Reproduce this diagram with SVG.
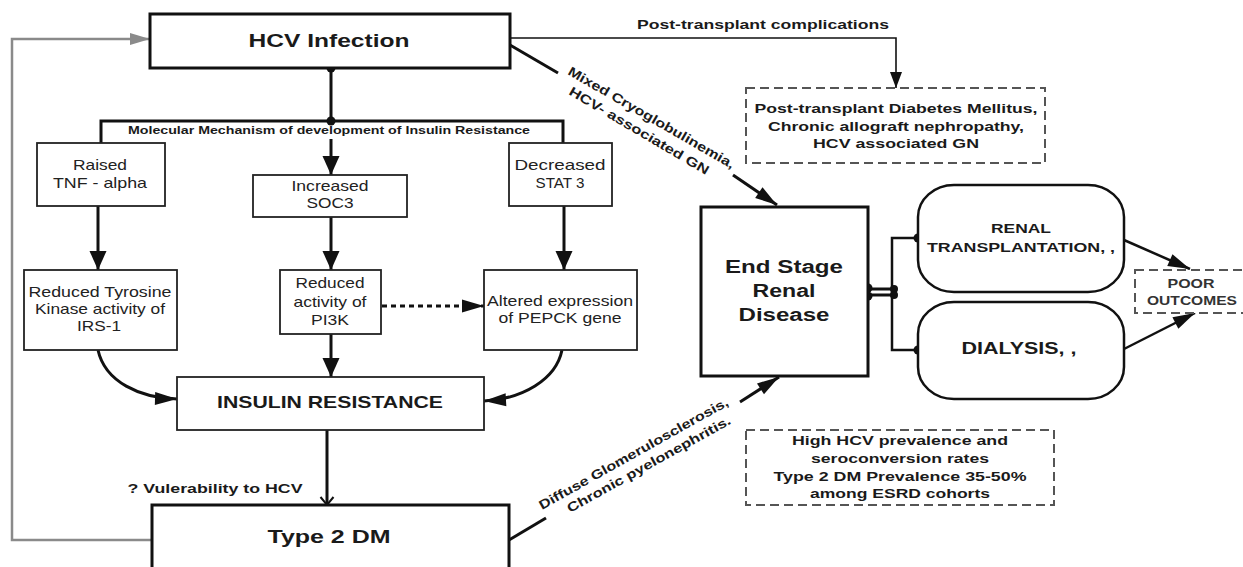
<svg xmlns="http://www.w3.org/2000/svg" width="1243" height="567" viewBox="0 0 1243 567">
<defs>
<style>
text { font-family: "Liberation Sans", Arial, Helvetica, sans-serif; fill: #1a1a1a; text-anchor: middle; }
.b { font-weight: bold; }
.s { text-anchor: start; }
.r { font-size: 15px; fill: #222; }
.box { fill: #fff; stroke: #222; stroke-width: 1.8; }
.hbox { fill: #fff; stroke: #111; stroke-width: 3; }
.rbox { fill: #fff; stroke: #111; stroke-width: 2.5; }
.dash { fill: #fff; stroke: #555; stroke-width: 2; stroke-dasharray: 9 5; }
.ln { fill: none; stroke: #111; stroke-width: 3; }
.ln2 { fill: none; stroke: #111; stroke-width: 2.5; }
.thin { fill: none; stroke: #111; stroke-width: 1.6; }
.gray { fill: none; stroke: #8a8a8a; stroke-width: 2.5; }
.dot { fill: #111; }
</style>
<marker id="aV" markerUnits="userSpaceOnUse" markerWidth="20" markerHeight="18" refX="19" refY="8.5" orient="auto" overflow="visible"><path d="M0,0 L19,8.5 L0,17 z" fill="#111"/></marker>
<marker id="aH" markerUnits="userSpaceOnUse" markerWidth="23" markerHeight="14" refX="22" refY="6.5" orient="auto" overflow="visible"><path d="M0,0 L22,6.5 L0,13 z" fill="#111"/></marker>
<marker id="aS" markerUnits="userSpaceOnUse" markerWidth="17" markerHeight="13" refX="16" refY="6" orient="auto" overflow="visible"><path d="M0,0 L16,6 L0,12 z" fill="#111"/></marker>
<marker id="aG" markerUnits="userSpaceOnUse" markerWidth="21" markerHeight="13" refX="20" refY="6" orient="auto" overflow="visible"><path d="M0,0 L20,6 L0,12 z" fill="#8a8a8a"/></marker>
<marker id="aO" markerUnits="userSpaceOnUse" markerWidth="10" markerHeight="14" refX="8" refY="6.5" orient="auto" overflow="visible"><path d="M0,0 L8,6.5 L0,13" fill="none" stroke="#111" stroke-width="2"/></marker>
</defs>

<rect width="1243" height="567" fill="#fff"/>

<g id="connectors">
  <!-- gray feedback loop -->
  <polyline class="gray" points="152,540 12,540 12,39 150,39" marker-end="url(#aG)"/>
  <!-- HCV to mechanism -->
  <line class="ln" x1="331" y1="68" x2="331" y2="121"/>
  <polyline class="ln" points="101,143 101,121 563,121 563,143"/>
  <line class="ln" x1="331" y1="139" x2="331" y2="175" marker-end="url(#aV)"/>
  <circle class="dot" cx="331" cy="68" r="4.5"/>
  <circle class="dot" cx="331" cy="121" r="4.5"/>
  <!-- column arrows -->
  <line class="ln" x1="98" y1="206" x2="98" y2="270" marker-end="url(#aV)"/>
  <line class="ln" x1="331" y1="217" x2="331" y2="270" marker-end="url(#aV)"/>
  <line class="ln" x1="564" y1="206" x2="564" y2="270" marker-end="url(#aV)"/>
  <line class="ln" x1="382" y1="306" x2="484" y2="306" stroke-dasharray="5 4" marker-end="url(#aH)"/>
  <line class="ln" x1="331" y1="334" x2="331" y2="377" marker-end="url(#aV)"/>
  <path class="ln" d="M98,350 C105,382 140,398 177,399" marker-end="url(#aH)"/>
  <path class="ln" d="M562,350 C556,380 522,399 484,401" marker-end="url(#aH)"/>
  <line class="ln" x1="327" y1="430" x2="327" y2="505" marker-end="url(#aO)"/>
  <!-- post-transplant complications -->
  <polyline class="thin" points="510,38 896,38 896,88" marker-end="url(#aS)"/>
  <!-- mixed cryoglobulinemia -->
  <line class="ln" x1="510" y1="45" x2="558" y2="73"/>
  <line class="ln" x1="733" y1="175" x2="777" y2="205" marker-end="url(#aH)"/>
  <!-- diffuse glomerulosclerosis -->
  <line class="ln" x1="509" y1="540" x2="546" y2="518"/>
  <line class="ln" x1="740" y1="402" x2="779" y2="377" marker-end="url(#aH)"/>
  <!-- ESRD to treatments -->
  <line x1="867" y1="292" x2="894" y2="292" stroke="#111" stroke-width="9"/>
  <line x1="867" y1="292" x2="894" y2="292" stroke="#fff" stroke-width="3"/>
  <polyline class="ln2" points="918,238 892,238 892,350 918,350"/>
  <circle class="dot" cx="868" cy="288" r="4.5"/>
  <circle class="dot" cx="868" cy="296" r="4.5"/>
  <circle class="dot" cx="894" cy="289" r="4"/>
  <circle class="dot" cx="894" cy="295" r="4"/>
  <circle class="dot" cx="918" cy="238" r="4.5"/>
  <circle class="dot" cx="918" cy="350" r="4.5"/>
  <!-- to poor outcomes -->
  <line class="ln2" x1="1124" y1="240" x2="1190" y2="269" marker-end="url(#aH)"/>
  <line class="ln2" x1="1124" y1="349" x2="1195" y2="313" marker-end="url(#aH)"/>
  <!-- labels -->
  <text class="b" x="329" y="134" font-size="10" textLength="402" lengthAdjust="spacingAndGlyphs">Molecular Mechanism of development of Insulin Resistance</text>
  <text class="b" x="763" y="29" font-size="13" textLength="252" lengthAdjust="spacingAndGlyphs">Post-transplant complications</text>
  <text class="b" x="215" y="493" font-size="12.5" textLength="175" lengthAdjust="spacingAndGlyphs">? Vulerability to HCV</text>
  <text class="b s" transform="translate(567,74) rotate(30)" font-size="13" textLength="190" lengthAdjust="spacingAndGlyphs">Mixed Cryoglobulinemia,</text>
  <text class="b s" transform="translate(568,94) rotate(30.5)" font-size="13" textLength="160" lengthAdjust="spacingAndGlyphs">HCV- associated GN</text>
  <text class="b s" transform="translate(542,510) rotate(-29.3)" font-size="13" textLength="215" lengthAdjust="spacingAndGlyphs">Diffuse Glomerulosclerosis,</text>
  <text class="b s" transform="translate(570,513) rotate(-29)" font-size="13" textLength="185" lengthAdjust="spacingAndGlyphs">Chronic pyelonephritis.</text>
</g>

<g id="hcv">
  <rect class="hbox" x="150" y="14" width="360" height="54"/>
  <text class="b" x="329" y="47" font-size="19" textLength="161" lengthAdjust="spacingAndGlyphs">HCV Infection</text>
</g>

<g id="raised">
  <rect class="box" x="37" y="143" width="128" height="63"/>
  <text class="r" x="100" y="170" textLength="54" lengthAdjust="spacingAndGlyphs">Raised</text>
  <text class="r" x="100" y="188" textLength="94" lengthAdjust="spacingAndGlyphs">TNF - alpha</text>
</g>

<g id="increased">
  <rect class="box" x="253" y="175" width="154" height="42"/>
  <text class="r" x="330" y="191" textLength="77" lengthAdjust="spacingAndGlyphs">Increased</text>
  <text class="r" x="330" y="208" textLength="47" lengthAdjust="spacingAndGlyphs">SOC3</text>
</g>

<g id="decreased">
  <rect class="box" x="509" y="143" width="103" height="63"/>
  <text class="r" x="560" y="170" textLength="91" lengthAdjust="spacingAndGlyphs">Decreased</text>
  <text class="r" x="560" y="188" textLength="49" lengthAdjust="spacingAndGlyphs">STAT 3</text>
</g>

<g id="tyrosine">
  <rect class="box" x="24" y="270" width="153" height="80"/>
  <text class="r" x="100" y="297" textLength="143" lengthAdjust="spacingAndGlyphs">Reduced Tyrosine</text>
  <text class="r" x="100" y="314" textLength="130" lengthAdjust="spacingAndGlyphs">Kinase activity of</text>
  <text class="r" x="99" y="331" textLength="44" lengthAdjust="spacingAndGlyphs">IRS-1</text>
</g>

<g id="pi3k">
  <rect class="box" x="280" y="270" width="101" height="64"/>
  <text class="r" x="330" y="288" textLength="69" lengthAdjust="spacingAndGlyphs">Reduced</text>
  <text class="r" x="330" y="307" textLength="73" lengthAdjust="spacingAndGlyphs">activity of</text>
  <text class="r" x="330" y="325" textLength="38" lengthAdjust="spacingAndGlyphs">PI3K</text>
</g>

<g id="pepck">
  <rect class="box" x="484" y="270" width="153" height="80"/>
  <text class="r" x="560" y="306" textLength="146" lengthAdjust="spacingAndGlyphs">Altered expression</text>
  <text class="r" x="560" y="323" textLength="123" lengthAdjust="spacingAndGlyphs">of PEPCK gene</text>
</g>

<g id="insulin-resistance">
  <rect class="box" x="177" y="377" width="307" height="53" stroke-width="2"/>
  <text class="b" x="330" y="408" font-size="17" textLength="226" lengthAdjust="spacingAndGlyphs">INSULIN RESISTANCE</text>
</g>

<g id="type2dm">
  <rect class="hbox" x="152" y="505" width="357" height="75"/>
  <text class="b" x="329" y="543" font-size="19" textLength="123" lengthAdjust="spacingAndGlyphs">Type 2 DM</text>
</g>

<g id="post-transplant">
  <rect class="dash" x="746" y="88" width="299" height="75"/>
  <text class="b" x="896" y="113" font-size="13" textLength="283" lengthAdjust="spacingAndGlyphs">Post-transplant Diabetes Mellitus,</text>
  <text class="b" x="896" y="131" font-size="13" textLength="256" lengthAdjust="spacingAndGlyphs">Chronic allograft nephropathy,</text>
  <text class="b" x="896" y="148" font-size="13" textLength="166" lengthAdjust="spacingAndGlyphs">HCV associated GN</text>
</g>

<g id="esrd">
  <rect class="hbox" x="701" y="207" width="167" height="169"/>
  <text class="b" x="784" y="273" font-size="18" textLength="118" lengthAdjust="spacingAndGlyphs">End Stage</text>
  <text class="b" x="784" y="297" font-size="18" textLength="63" lengthAdjust="spacingAndGlyphs">Renal</text>
  <text class="b" x="784" y="321" font-size="18" textLength="91" lengthAdjust="spacingAndGlyphs">Disease</text>
</g>

<g id="renal-transplantation">
  <rect class="rbox" x="918" y="185" width="206" height="107" rx="36" ry="32"/>
  <text class="b" x="1021" y="233" font-size="13" textLength="60" lengthAdjust="spacingAndGlyphs">RENAL</text>
  <text class="b" x="1021" y="252" font-size="13" textLength="188" lengthAdjust="spacingAndGlyphs">TRANSPLANTATION, ,</text>
</g>

<g id="dialysis">
  <rect class="rbox" x="918" y="302" width="206" height="97" rx="36" ry="32"/>
  <text class="b" x="1019" y="354" font-size="17" textLength="115" lengthAdjust="spacingAndGlyphs">DIALYSIS, ,</text>
</g>

<g id="poor-outcomes">
  <rect class="dash" x="1135" y="270" width="120" height="43" stroke-dasharray="11 6"/>
  <text class="b" x="1191" y="288" font-size="12" style="fill:#333" textLength="47" lengthAdjust="spacingAndGlyphs">POOR</text>
  <text class="b" x="1192" y="305" font-size="12" style="fill:#333" textLength="90" lengthAdjust="spacingAndGlyphs">OUTCOMES</text>
</g>

<g id="prevalence">
  <rect class="dash" x="746" y="430" width="308" height="75"/>
  <text class="b" x="900" y="445" font-size="13" textLength="216" lengthAdjust="spacingAndGlyphs">High HCV prevalence and</text>
  <text class="b" x="900" y="463" font-size="13" textLength="178" lengthAdjust="spacingAndGlyphs">seroconversion rates</text>
  <text class="b" x="900" y="481" font-size="13" textLength="253" lengthAdjust="spacingAndGlyphs">Type 2 DM Prevalence 35-50%</text>
  <text class="b" x="900" y="498" font-size="13" textLength="180" lengthAdjust="spacingAndGlyphs">among ESRD cohorts</text>
</g>
</svg>
